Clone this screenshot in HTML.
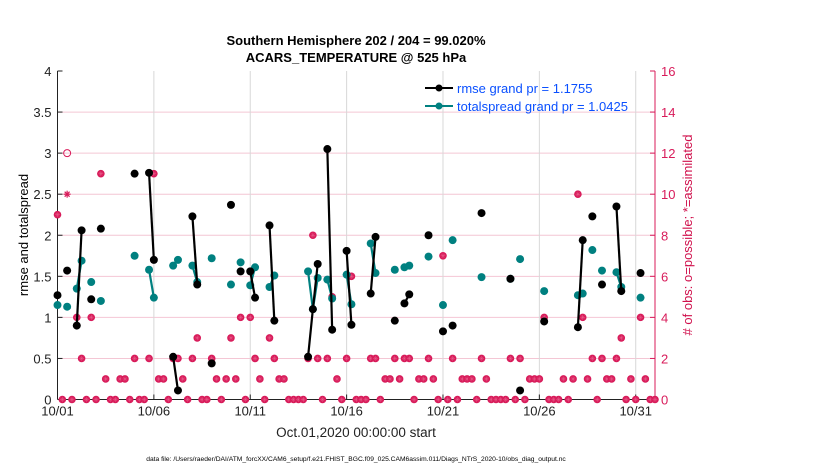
<!DOCTYPE html>
<html><head><meta charset="utf-8"><style>
body{margin:0;background:#fff;}
svg{display:block;font-family:"Liberation Sans",Arial,sans-serif;}
</style></head><body>
<svg id="chart" width="830" height="470" viewBox="0 0 830 470" xmlns="http://www.w3.org/2000/svg">
<text x="356" y="45" font-size="13" font-weight="bold" text-anchor="middle" fill="#000">Southern Hemisphere 202 / 204 = 99.020%</text>
<text x="356" y="62" font-size="13" font-weight="bold" text-anchor="middle" fill="#000">ACARS_TEMPERATURE @ 525 hPa</text>
<g id="grid"></g>
<g id="axes"></g>
<g id="marks"></g>
<text transform="translate(28,235) rotate(-90)" font-size="13" text-anchor="middle" fill="#000">rmse and totalspread</text>
<text transform="translate(692,235) rotate(-90)" font-size="13" text-anchor="middle" fill="#d0104c">#  of obs: o=possible; *=assimilated</text>
<text x="356" y="437" font-size="13.5" text-anchor="middle" fill="#222">Oct.01,2020 00:00:00 start</text>
<text x="356" y="461" font-size="6.7" text-anchor="middle" fill="#000">data file: /Users/raeder/DAI/ATM_forcXX/CAM6_setup/f.e21.FHIST_BGC.f09_025.CAM6assim.011/Diags_NTrS_2020-10/obs_diag_output.nc</text>
<g id="legend">
<line x1="425" y1="88" x2="453" y2="88" stroke="#000" stroke-width="2"/>
<circle cx="439" cy="88" r="3.5" fill="#000"/>
<text x="457" y="93" font-size="13" fill="#0a50ff">rmse grand pr = 1.1755</text>
<line x1="425" y1="106" x2="453" y2="106" stroke="#008080" stroke-width="2"/>
<circle cx="439" cy="106" r="3.5" fill="#008080"/>
<text x="457" y="111" font-size="13" fill="#0a50ff">totalspread grand pr = 1.0425</text>
</g>
</svg>
<script>
const obsCount = [9,0,10,0,4,2,0,4,0,11,1,0,0,1,1,0,2,0,0,2,11,1,1,0,2,2,1,0,2,3,0,0,2,1,0,1,3,1,4,0,4,2,1,0,3,2,1,1,0,0,0,0,2,8,2,0,2,5,1,0,2,6,0,0,0,2,2,0,1,1,2,1,2,2,0,1,1,2,1,0,7,0,2,0,1,1,1,0,2,1,0,0,0,0,2,0,2,0,1,1,1,4,0,0,0,1,0,1,10,4,1,2,0,2,1,1,2,3,0,1,0,4,1,0,0];
const obsPossibleExtra = {2:12};
const rmseIdx = [0,2,4,5,7,9,16,19,20,24,25,28,29,32,36,38,40,41,44,45,52,53,54,56,57,60,61,65,66,70,72,73,77,80,82,88,94,96,101,108,109,111,113,116,117,121];
const rmseVal = [1.27,1.57,0.9,2.06,1.22,2.08,2.75,2.76,1.7,0.52,0.11,2.23,1.4,0.44,2.37,1.56,1.56,1.24,2.12,0.96,0.52,1.1,1.65,3.05,0.85,1.81,0.91,1.29,1.98,0.96,1.17,1.28,2.0,0.83,0.9,2.27,1.47,0.11,0.95,0.88,1.94,2.23,1.4,2.35,1.32,1.54];
const spreadVal = [1.15,1.13,1.35,1.69,1.43,1.2,1.75,1.58,1.24,1.63,1.7,1.63,1.43,1.72,1.4,1.67,1.39,1.61,1.37,1.51,1.56,1.1,1.48,1.46,1.23,1.52,1.16,1.9,1.54,1.58,1.61,1.63,1.74,1.15,1.94,1.49,1.47,1.71,1.32,1.27,1.29,1.82,1.57,1.55,1.37,1.24];
const xTickDays = [0,5,10,15,20,25,30];
const xTickLabels = ["10/01","10/06","10/11","10/16","10/21","10/26","10/31"];
const yTicks = [0,0.5,1,1.5,2,2.5,3,3.5,4];
const yTickLabels = ["0","0.5","1","1.5","2","2.5","3","3.5","4"];
const y2Ticks = [0,2,4,6,8,10,12,14,16];

const L=57.5,R=655,T=71,B=399.5,XMAX=31;
const sx=d=>L+d*(R-L)/XMAX;
const sy=v=>B-v*(B-T)/4;
const sy2=n=>B-n*(B-T)/16;
const NS='http://www.w3.org/2000/svg';
const PINK='#d81b5a';
function mk(tag,attrs,parent){const e=document.createElementNS(NS,tag);for(const k in attrs)e.setAttribute(k,attrs[k]);parent.appendChild(e);return e;}
const grid=document.getElementById('grid'),axes=document.getElementById('axes'),marks=document.getElementById('marks');

y2Ticks.forEach(n=>{if(n>0&&n<16){const g=mk('line',{x1:L,x2:R,y1:sy2(n),y2:sy2(n),stroke:'#f4c6d4','stroke-width':1},grid);

}});
xTickDays.forEach(d=>{if(d>0){const g=mk('line',{x1:sx(d),x2:sx(d),y1:T,y2:B,stroke:'#d8d8d8','stroke-width':1},grid);

}});

const la=mk('line',{x1:L,x2:L,y1:T,y2:B,stroke:'#222','stroke-width':1},axes);


const ba=mk('line',{x1:L,x2:R,y1:B,y2:B,stroke:'#222','stroke-width':1},axes);


const ra=mk('line',{x1:R,x2:R,y1:T,y2:B,stroke:PINK,'stroke-width':1},axes);


yTicks.forEach((v,i)=>{mk('line',{x1:L,x2:L+5,y1:sy(v),y2:sy(v),stroke:'#222'},axes);
const t=mk('text',{x:L-6,y:sy(v)+5,'font-size':13,'text-anchor':'end',fill:'#222'},axes);t.textContent=yTickLabels[i];

});
y2Ticks.forEach(n=>{mk('line',{x1:R-5,x2:R,y1:sy2(n),y2:sy2(n),stroke:PINK},axes);
const t=mk('text',{x:R+6,y:sy2(n)+5,'font-size':13,fill:PINK},axes);t.textContent=String(n);

});
xTickDays.forEach((d,i)=>{mk('line',{x1:sx(d),x2:sx(d),y1:B-5,y2:B,stroke:'#222'},axes);
const t=mk('text',{x:sx(d),y:B+16,'font-size':13,'text-anchor':'middle',fill:'#222'},axes);t.textContent=xTickLabels[i];

});

function star(cx,cy,r,color,w,parent){const g=mk('g',{stroke:color,'stroke-width':w},parent);
for(let a=0;a<4;a++){const an=a*Math.PI/4;mk('line',{x1:cx-r*Math.cos(an),y1:cy-r*Math.sin(an),x2:cx+r*Math.cos(an),y2:cy+r*Math.sin(an)},g);}return g;}
obsCount.forEach((n,i)=>{const x=sx(i/4),y=sy2(n);
if(i===2){const s=star(x,y,3.5,PINK,1.2,marks);

return;}
const c=mk('circle',{cx:x,cy:y,r:3.8,fill:PINK},marks);


const s=star(x,y,2.4,'#e8608c',0.5,marks);

});
Object.keys(obsPossibleExtra).forEach(k=>{const i=+k;const c=mk('circle',{cx:sx(i/4),cy:sy2(obsPossibleExtra[k]),r:3.5,fill:'none',stroke:PINK,'stroke-width':1},marks);

});

function series(vals,color,name){let segs=[],cur=[];
rmseIdx.forEach((ix,k)=>{if(k>0&&ix!==rmseIdx[k-1]+1){segs.push(cur);cur=[];}cur.push([sx(ix/4),sy(vals[k])]);});segs.push(cur);
segs.forEach(s=>{if(s.length>1){const p=mk('polyline',{points:s.map(q=>q.join(',')).join(' '),fill:'none',stroke:color,'stroke-width':2.2},marks);

}});
rmseIdx.forEach((ix,k)=>{const c=mk('circle',{cx:sx(ix/4),cy:sy(vals[k]),r:4,fill:color},marks);

});}
series(spreadVal,'#008080','totalspread');
series(rmseVal,'#000000','rmse');
</script>
</body></html>
